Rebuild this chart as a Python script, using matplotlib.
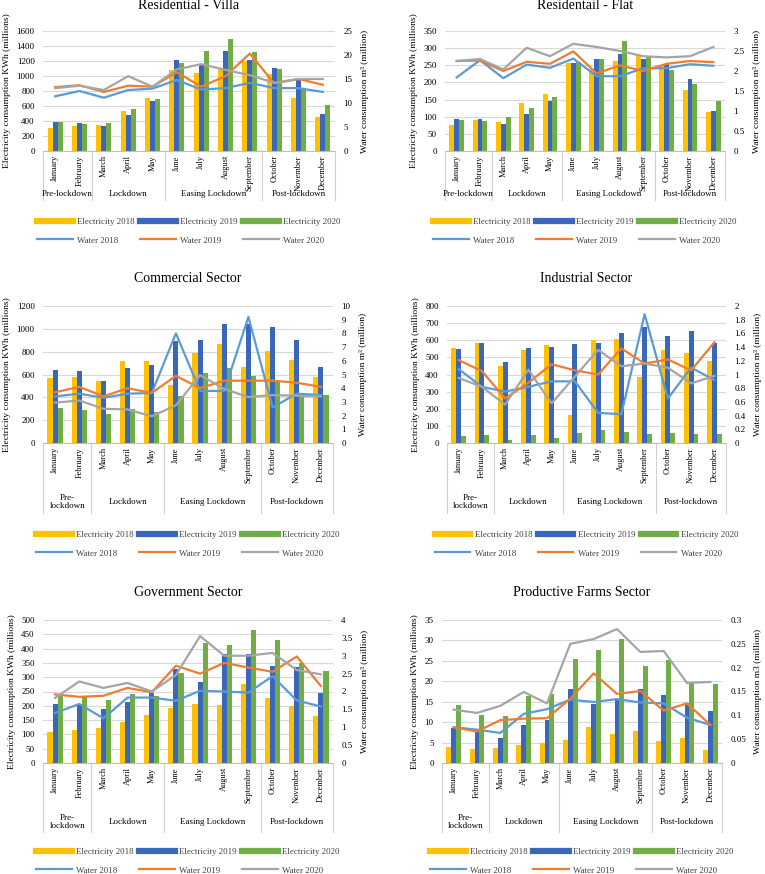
import numpy as np
import matplotlib.pyplot as plt
import matplotlib.transforms as mtransforms
from matplotlib.lines import Line2D
from matplotlib.ticker import MultipleLocator, FuncFormatter

plt.rcParams['font.family'] = ['Liberation Serif', 'DejaVu Serif']

W, H = 765, 874

months = ["January", "February", "March", "April", "May", "June", "July",
          "August", "September", "October", "November", "December"]
periods = ["Pre-lockdown", "Lockdown", "Easing Lockdown", "Post-lockdown"]
period_edges = [-0.5, 1.5, 4.5, 8.5, 11.5]

# Residential - Villa
villa_e18 = [310, 340, 350, 530, 705, 1080, 1040, 1100, 1200, 1030, 710, 460]
villa_e19 = [385, 380, 340, 480, 665, 1210, 1150, 1330, 1220, 1110, 950, 500]
villa_e20 = [385, 365, 380, 560, 690, 1170, 1330, 1490, 1320, 1100, 840, 620]
villa_w18 = [11.4, 12.5, 11.1, 12.7, 13.0, 14.8, 12.8, 13.1, 14.2, 13.1, 13.1, 12.3]
villa_w19 = [13.3, 13.7, 12.3, 13.6, 13.4, 16.4, 13.4, 15.6, 20.3, 14.1, 15.0, 13.8]
villa_w20 = [13.1, 13.6, 12.7, 15.6, 13.4, 17.0, 18.1, 16.9, 15.8, 14.2, 15.0, 15.0]

# Residential - Flat
flat_e18 = [75, 90, 84, 140, 166, 257, 240, 262, 280, 252, 178, 114]
flat_e19 = [93, 93, 78, 109, 146, 257, 268, 283, 267, 253, 210, 116]
flat_e20 = [90, 87, 99, 124, 157, 260, 268, 320, 274, 237, 196, 146]
flat_w18 = [1.84, 2.27, 1.82, 2.16, 2.08, 2.31, 1.87, 1.87, 2.07, 2.07, 2.17, 2.13]
flat_w19 = [2.25, 2.26, 2.00, 2.23, 2.18, 2.49, 1.94, 2.14, 2.00, 2.18, 2.25, 2.22]
flat_w20 = [2.25, 2.30, 2.04, 2.58, 2.37, 2.68, 2.60, 2.50, 2.37, 2.34, 2.37, 2.60]

# Commercial
com_e18 = [565, 580, 540, 720, 720, 505, 790, 865, 670, 810, 730, 575]
com_e19 = [640, 630, 540, 660, 680, 890, 900, 1040, 1040, 1020, 900, 665]
com_e20 = [310, 290, 255, 300, 275, 415, 610, 655, 590, 545, 420, 420]
com_w18 = [3.4, 3.6, 3.3, 3.6, 3.65, 8.0, 3.8, 3.8, 9.2, 2.6, 3.6, 3.5]
com_w19 = [3.7, 4.1, 3.4, 4.0, 3.65, 4.9, 4.0, 4.55, 4.55, 4.55, 4.4, 4.1]
com_w20 = [2.95, 3.1, 2.5, 2.45, 1.95, 2.75, 4.95, 3.95, 3.35, 3.5, 3.45, 3.4]

# Industrial
ind_e18 = [555, 583, 450, 545, 570, 162, 600, 607, 385, 545, 525, 478]
ind_e19 = [548, 585, 475, 555, 560, 578, 585, 645, 680, 625, 655, 585]
ind_e20 = [40, 45, 18, 48, 32, 58, 78, 65, 55, 58, 55, 55]
ind_w18 = [1.08, 0.82, 0.75, 0.82, 0.90, 0.90, 0.44, 0.42, 1.88, 0.65, 1.10, 0.92]
ind_w19 = [1.21, 1.05, 0.65, 0.88, 1.15, 1.06, 1.00, 1.38, 1.16, 1.22, 1.06, 1.47]
ind_w20 = [0.95, 0.82, 0.56, 1.07, 0.58, 0.97, 1.36, 1.12, 1.16, 1.10, 0.87, 0.98]

# Government
gov_e18 = [108, 115, 122, 145, 168, 192, 208, 202, 276, 228, 200, 163]
gov_e19 = [205, 205, 188, 213, 245, 328, 282, 382, 380, 338, 337, 246]
gov_e20 = [243, 232, 220, 240, 235, 315, 420, 412, 465, 430, 350, 320]
gov_w18 = [1.40, 1.65, 1.25, 1.83, 1.83, 1.74, 2.02, 2.00, 1.97, 2.43, 1.75, 1.58]
gov_w19 = [1.92, 1.85, 1.88, 2.10, 1.98, 2.72, 2.50, 2.80, 2.67, 2.55, 2.98, 2.15]
gov_w20 = [1.82, 2.28, 2.10, 2.24, 2.00, 2.46, 3.55, 3.00, 3.00, 3.08, 2.60, 2.48]

# Productive farms
farm_e18 = [3.8, 3.5, 3.6, 4.4, 5.0, 5.6, 8.7, 7.2, 7.9, 5.5, 6.0, 3.1]
farm_e19 = [8.5, 7.8, 6.2, 9.2, 10.5, 18.0, 14.4, 15.5, 18.2, 16.7, 14.7, 12.8]
farm_e20 = [14.2, 11.8, 11.4, 16.4, 16.8, 25.4, 27.6, 30.3, 23.7, 25.3, 19.7, 19.3]
farm_w18 = [0.075, 0.070, 0.063, 0.103, 0.113, 0.133, 0.128, 0.134, 0.127, 0.125, 0.095, 0.080]
farm_w19 = [0.075, 0.066, 0.090, 0.093, 0.094, 0.135, 0.188, 0.145, 0.151, 0.110, 0.125, 0.080]
farm_w20 = [0.112, 0.105, 0.120, 0.149, 0.125, 0.250, 0.260, 0.281, 0.233, 0.235, 0.168, 0.170]

c_e18, c_e19, c_e20 = '#FFC000', '#3A67BA', '#70AD47'
c_w18, c_w19, c_w20 = '#5B9BD5', '#ED7D31', '#A5A5A5'

fig = plt.figure(figsize=(W / 100, H / 100), dpi=100)


def panel(px, title, e, w, ymax, ystep, rmax, rstep, rlabel, pre,
          sep_px, grp_px, leg_px, title_pad):
    x0, y0, x1, y1 = px
    ax = fig.add_axes([x0 / W, 1 - y1 / H, (x1 - x0) / W, (y1 - y0) / H])
    hpx = y1 - y0
    x = np.arange(12)
    bw = 0.21
    ax.bar(x - bw, e[0], bw, color=c_e18, zorder=2)
    ax.bar(x, e[1], bw, color=c_e19, zorder=2)
    ax.bar(x + bw, e[2], bw, color=c_e20, zorder=2)
    ax.set_xlim(-0.5, 11.5)
    ax.set_ylim(0, ymax)
    ax.yaxis.set_major_locator(MultipleLocator(ystep))
    ax.yaxis.grid(True, color='#D9D9D9', lw=0.8)
    ax.set_axisbelow(True)
    for s in ['top', 'right', 'left']:
        ax.spines[s].set_visible(False)
    ax.spines['bottom'].set_color('#BFBFBF')
    ax.set_xticks(x)
    ax.set_xticklabels(months, rotation=90, fontsize=6)
    ax.tick_params(axis='x', length=0, pad=3)
    ax.tick_params(axis='y', length=0, labelsize=6.5, pad=6)
    ax.set_ylabel("Electricity consumption KWh (millions)", fontsize=6.8, labelpad=4)
    ax.set_title(title, fontsize=10, pad=title_pad)

    ax2 = ax.twinx()
    ax2.plot(x, w[0], color=c_w18, lw=1.6)
    ax2.plot(x, w[1], color=c_w19, lw=1.6)
    ax2.plot(x, w[2], color=c_w20, lw=1.6)
    ax2.set_ylim(0, rmax)
    ax2.yaxis.set_major_locator(MultipleLocator(rstep))
    ax2.yaxis.set_major_formatter(FuncFormatter(lambda v, p: '%g' % round(v, 3)))
    for s in ax2.spines.values():
        s.set_visible(False)
    ax2.tick_params(axis='y', length=0, labelsize=6.5, pad=6)
    ax2.set_ylabel(rlabel, fontsize=6.8, labelpad=6)

    trans = mtransforms.blended_transform_factory(ax.transData, ax.transAxes)
    for b in period_edges:
        ax.plot([b, b], [0, -sep_px / hpx], transform=trans, clip_on=False,
                color='#D0D0D0', lw=0.8)
    labels = [pre] + periods[1:]
    for i, lab in enumerate(labels):
        c = (period_edges[i] + period_edges[i + 1]) / 2
        ax.text(c, -grp_px / hpx, lab, transform=trans, ha='center', va='center',
                fontsize=6.5, linespacing=1.1)

    handles = [Line2D([], [], color=c_e18, lw=4.5), Line2D([], [], color=c_w18, lw=1.6),
               Line2D([], [], color=c_e19, lw=4.5), Line2D([], [], color=c_w19, lw=1.6),
               Line2D([], [], color=c_e20, lw=4.5), Line2D([], [], color=c_w20, lw=1.6)]
    names = ["Electricity 2018", "Water 2018", "Electricity 2019", "Water 2019",
             "Electricity 2020", "Water 2020"]
    leg = ax.legend(handles, names, ncol=3, loc='upper center',
                    bbox_to_anchor=((x0 + x1) / 2 / W, 1 - leg_px / H),
                    bbox_transform=fig.transFigure, frameon=False, fontsize=6.4,
                    handlelength=4.0, handletextpad=0.5, columnspacing=0.6,
                    labelspacing=1.2, borderpad=0)
    for t in leg.get_texts():
        t.set_color('#404040')
    return ax


wlab = "Water consumption m³ (million)"
panel((43, 31, 335, 151), "Residential - Villa",
      (villa_e18, villa_e19, villa_e20), (villa_w18, villa_w19, villa_w20),
      1600, 200, 25, 5, wlab, "Pre-lockdown", 49, 43, 213, 16)
panel((445, 31, 725, 151), "Residentail - Flat",
      (flat_e18, flat_e19, flat_e20), (flat_w18, flat_w19, flat_w20),
      350, 50, 3, 0.5, wlab, "Pre-lockdown", 49, 43, 213, 16)
panel((43, 306, 333, 443), "Commercial Sector",
      (com_e18, com_e19, com_e20), (com_w18, com_w19, com_w20),
      1200, 200, 10, 1, wlab, "Pre-\nlockdown", 70, 59, 526, 17)
panel((447, 306, 726, 443), "Industrial Sector",
      (ind_e18, ind_e19, ind_e20), (ind_w18, ind_w19, ind_w20),
      800, 100, 2, 0.2, wlab, "Pre-\nlockdown", 70, 59, 526, 17)
panel((43, 620, 333, 763), "Government Sector",
      (gov_e18, gov_e19, gov_e20), (gov_w18, gov_w19, gov_w20),
      500, 50, 4, 0.5, wlab, "Pre-\nlockdown", 69, 59, 843, 17)
panel((442, 620, 722, 763), "Productive Farms Sector",
      (farm_e18, farm_e19, farm_e20), (farm_w18, farm_w19, farm_w20),
      35, 5, 0.3, 0.05, "Water consumption m3 (million)", "Pre-\nlockdown", 69, 59, 843, 17)

fig.savefig("out.png", dpi=100)
